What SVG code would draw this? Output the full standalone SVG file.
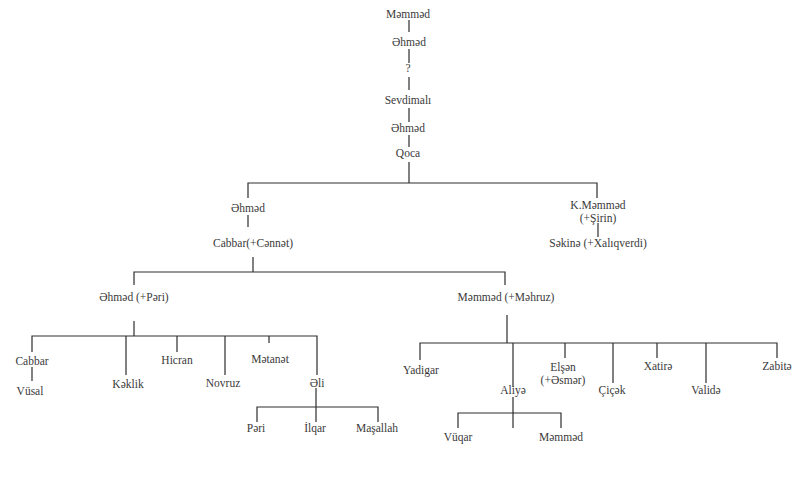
<svg xmlns="http://www.w3.org/2000/svg" width="800" height="485" viewBox="0 0 800 485">
<style>
text{font-family:"Liberation Serif","Times New Roman",serif;font-size:11.5px;fill:#3a3a3a;text-anchor:middle}
.c{fill:none;stroke:#2e2e2e;stroke-width:1.2}
</style>
<rect width="800" height="485" fill="#ffffff"/>
<g id="connectors">
<path class="c" d="M409 20V32M409 49V63M409 77V90M409 108V122M409 135V147M409 162V183"/>
<path class="c" d="M248 198V183H597V198"/>
<path class="c" d="M248 215V227M253 257V272"/>
<path class="c" d="M598 223V237"/>
<path class="c" d="M134 285V272H505V285"/>
<path class="c" d="M134 321V336"/>
<path class="c" d="M32 352V336H317V375M126 336V375M177 336V352M225 336V375M269 336V343"/>
<path class="c" d="M32 367V381"/>
<path class="c" d="M316 388V422M257 422V407H378V422"/>
<path class="c" d="M507 315V343M420 360V343H777V358M513 343V387M565 343V358M613 343V383M657 343V358M706 343V383"/>
<path class="c" d="M513 397V428M458 428V413H561V428"/>
</g>
<g id="n-mammad-top"><text x="408" y="18">Məmməd</text></g>
<g id="n-ahmad-1"><text x="409" y="46">Əhməd</text></g>
<g id="n-unknown"><text x="408" y="72">?</text></g>
<g id="n-sevdimali"><text x="408" y="104">Sevdimalı</text></g>
<g id="n-ahmad-2"><text x="408" y="132">Əhməd</text></g>
<g id="n-qoca"><text x="408" y="157">Qoca</text></g>
<g id="n-ahmad-3"><text x="248" y="212">Əhməd</text></g>
<g id="n-cabbar"><text x="253" y="247">Cabbar(+Cənnət)</text></g>
<g id="n-kmammad"><text x="598" y="209">K.Məmməd</text><text x="598" y="222">(+Şirin)</text></g>
<g id="n-sakina"><text x="598" y="247">Səkinə (+Xalıqverdi)</text></g>
<g id="n-ahmad-pari"><text x="134" y="301">Əhməd (+Pəri)</text></g>
<g id="n-mammad-mahruz"><text x="506" y="301">Məmməd (+Məhruz)</text></g>
<g id="n-cabbar2"><text x="32" y="365">Cabbar</text></g>
<g id="n-vusal"><text x="30" y="395">Vüsal</text></g>
<g id="n-keklik"><text x="128" y="388">Kəklik</text></g>
<g id="n-hicran"><text x="177" y="364">Hicran</text></g>
<g id="n-novruz"><text x="223" y="387">Novruz</text></g>
<g id="n-metanet"><text x="270" y="363">Mətanət</text></g>
<g id="n-ali"><text x="317" y="387">Əli</text></g>
<g id="n-pari"><text x="256" y="432">Pəri</text></g>
<g id="n-ilqar"><text x="315" y="432">İlqar</text></g>
<g id="n-masallah"><text x="377" y="432">Maşallah</text></g>
<g id="n-yadigar"><text x="421" y="374">Yadigar</text></g>
<g id="n-aliya"><text x="513" y="394">Aliyə</text></g>
<g id="n-vuqar"><text x="458" y="441">Vüqar</text></g>
<g id="n-mammad-b"><text x="561" y="441">Məmməd</text></g>
<g id="n-elsan"><text x="563" y="371">Elşən</text><text x="563" y="384">(+Əsmər)</text></g>
<g id="n-cicek"><text x="612" y="394">Çiçək</text></g>
<g id="n-xatira"><text x="658" y="370">Xatirə</text></g>
<g id="n-valida"><text x="706" y="394">Validə</text></g>
<g id="n-zabita"><text x="777" y="370">Zabitə</text></g>
</svg>
